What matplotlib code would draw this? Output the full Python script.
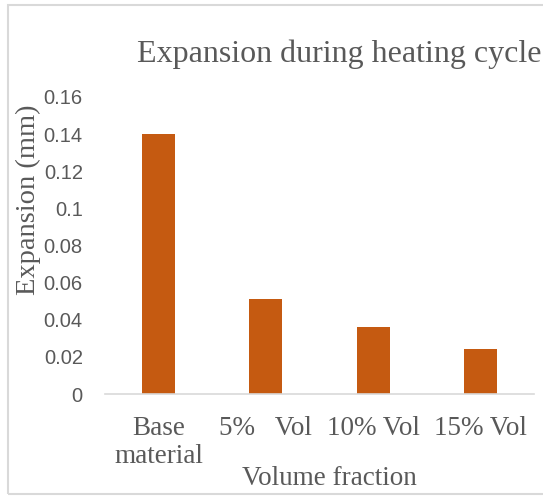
import matplotlib.pyplot as plt
from matplotlib.patches import Rectangle

categories = ["Base\nmaterial", "5%   Vol", "10% Vol", "15% Vol"]
expansion = [0.14, 0.051, 0.036, 0.024]
yticks = [0, 0.02, 0.04, 0.06, 0.08, 0.1, 0.12, 0.14, 0.16]
ytick_labels = ["0", "0.02", "0.04", "0.06", "0.08", "0.1", "0.12", "0.14", "0.16"]

W, H = 543, 496
txt = "#595959"
serif = "Liberation Serif"

fig = plt.figure(figsize=(W / 100, H / 100), dpi=100)
ax = fig.add_axes([105 / W, 1 - 394 / H, (534 - 105) / W, (394 - 97) / H])

x = range(len(categories))
ax.bar(x, expansion, width=0.31, color="#C55A11")
ax.set_xlim(-0.5, len(categories) - 0.5)
ax.set_ylim(0, 0.16)

ax.set_yticks(yticks)
ax.set_yticklabels(ytick_labels, family="Liberation Sans", fontsize=14.5, color=txt)
ax.set_xticks(list(x))
ax.set_xticklabels(categories, family=serif, fontsize=19.5, color=txt, linespacing=1.15)
ax.tick_params(axis="y", length=0, pad=16)
ax.tick_params(axis="x", length=0, pad=16)

for s in ["top", "right", "left"]:
    ax.spines[s].set_visible(False)
ax.spines["bottom"].set_color("#D9D9D9")
ax.spines["bottom"].set_linewidth(1.2)

fig.text(339 / W, 1 - 62 / H, "Expansion during heating cycle", family=serif,
         fontsize=23, color=txt, ha="center", va="baseline")
fig.text(329 / W, 1 - 485 / H, "Volume fraction", family=serif,
         fontsize=19.5, color=txt, ha="center", va="baseline")
fig.text(28 / W, 1 - 200 / H, "Expansion (mm)", family=serif,
         fontsize=20.5, color=txt, ha="center", va="center", rotation=90)

# chart border
fig.patches.append(Rectangle((8 / W, 1 - 494 / H), 1.2, (494 - 5) / H,
                             transform=fig.transFigure, fill=False,
                             edgecolor="#D9D9D9", linewidth=1.5))

fig.savefig("out.png", dpi=100)
